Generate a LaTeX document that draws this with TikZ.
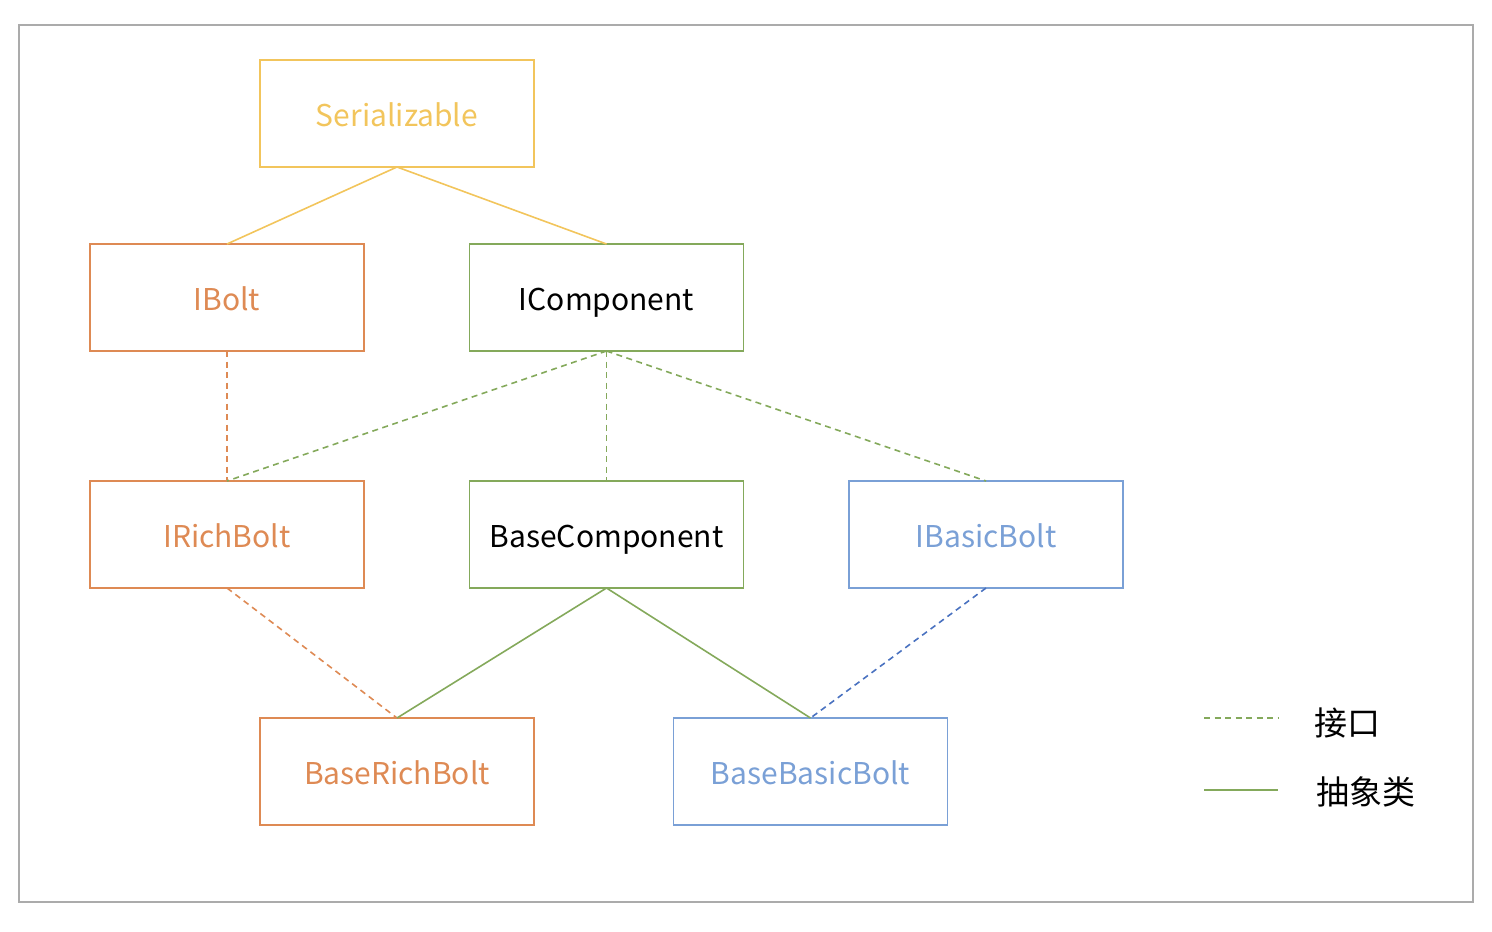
\documentclass[tikz,border=0pt]{standalone}
\usepackage{fontspec}
\setmainfont{Noto Sans CJK SC}
\begin{document}
\begin{tikzpicture}[x=1pt,y=-1pt,
  box/.style={draw=#1,line width=1.8pt,minimum width=274pt,minimum height=107pt,inner sep=0pt,outer sep=0pt,text height=25pt,text depth=0pt,font=\fontsize{30}{36}\selectfont},
  link/.style={draw=#1,line width=1.6pt},
  dsh/.style={dash pattern=on 6pt off 4.5pt},
  legtext/.style={anchor=west,inner sep=0pt,font=\fontsize{33}{40}\selectfont}]
\definecolor{cyel}{HTML}{F2C55C}
\definecolor{cora}{HTML}{DE8A54}
\definecolor{cgrn}{HTML}{84A95B}
\definecolor{cblu}{HTML}{7AA0D6}
\definecolor{cbld}{HTML}{4A72C0}
\definecolor{cfrm}{HTML}{ABABAB}
\useasboundingbox (0,0) rectangle (1492,932);
\draw[cfrm,line width=1.8pt] (19,25) rectangle (1473,902);
\node[box=cyel,text=cyel] (ser) at (397,113.5) {Serializable};
\node[box=cora,text=cora] (ibolt) at (227,297.5) {IBolt};
\node[box=cgrn,text=black] (icomp) at (606.5,297.5) {IComponent};
\node[box=cora,text=cora] (irich) at (227,534.5) {IRichBolt};
\node[box=cgrn,text=black] (bcomp) at (606.5,534.5) {BaseComponent};
\node[box=cblu,text=cblu] (ibasic) at (986,534.5) {IBasicBolt};
\node[box=cora,text=cora] (brich) at (397,771.5) {BaseRichBolt};
\node[box=cblu,text=cblu] (bbasic) at (810.5,771.5) {BaseBasicBolt};
\draw[link=cyel] (ser.south) -- (ibolt.north);
\draw[link=cyel] (ser.south) -- (icomp.north);
\draw[link=cora,dsh] (ibolt.south) -- (irich.north);
\draw[link=cgrn,dsh] (icomp.south) -- (irich.north);
\draw[link=cgrn,dsh] (icomp.south) -- (bcomp.north);
\draw[link=cgrn,dsh] (icomp.south) -- (ibasic.north);
\draw[link=cora,dsh] (irich.south) -- (brich.north);
\draw[link=cgrn] (bcomp.south) -- (brich.north);
\draw[link=cgrn] (bcomp.south) -- (bbasic.north);
\draw[link=cbld,dsh] (ibasic.south) -- (bbasic.north);
\coordinate (l1a) at (1204,718);
\coordinate (l1b) at (1278,718);
\coordinate (l2a) at (1204,790);
\coordinate (l2b) at (1278,790);
\draw[link=cgrn,dsh] (l1a) -- (l1b);
\draw[link=cgrn] (l2a) -- (l2b);
\node[legtext] (t1) at (1314,723) {接口};
\node[legtext] (t2) at (1316,792) {抽象类};
\end{tikzpicture}
\end{document}
